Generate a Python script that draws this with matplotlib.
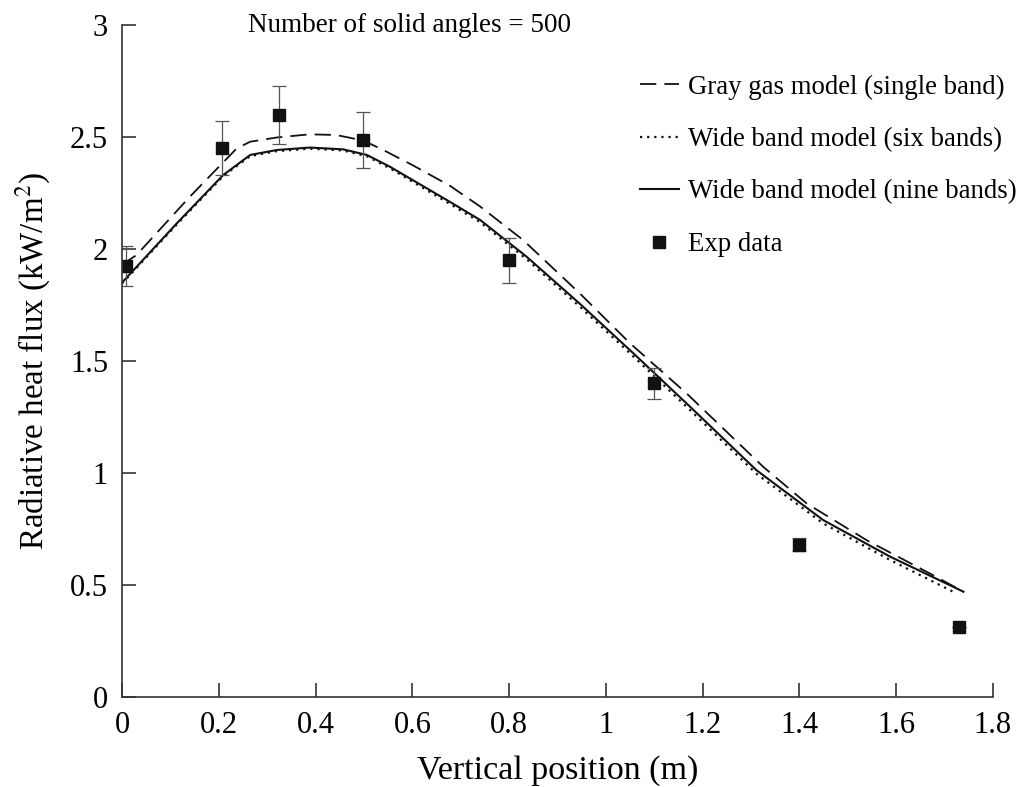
import matplotlib.pyplot as plt
from matplotlib.ticker import FuncFormatter

plt.rcParams['font.family'] = ['Liberation Serif', 'DejaVu Serif']
plt.rcParams['mathtext.fontset'] = 'stix'

# Gray gas model (single band)
x_gray = [0.0, 0.03, 0.14, 0.237, 0.265, 0.32, 0.388, 0.443, 0.499, 0.54, 0.6, 0.678,
          0.74, 0.829, 0.946, 1.05, 1.167, 1.325, 1.415, 1.539, 1.67, 1.739]
y_gray = [1.93, 1.973, 2.233, 2.449, 2.479, 2.498, 2.512, 2.509, 2.484, 2.442, 2.375, 2.282,
          2.19, 2.04, 1.802, 1.579, 1.355, 1.028, 0.864, 0.70, 0.551, 0.47]

# Wide band model (nine bands)
x_nine = [0.0, 0.113, 0.209, 0.265, 0.32, 0.388, 0.457, 0.506, 0.554, 0.671, 0.74,
          0.836, 0.946, 1.057, 1.174, 1.311, 1.449, 1.587, 1.739]
y_nine = [1.85, 2.114, 2.33, 2.42, 2.442, 2.453, 2.445, 2.42, 2.367, 2.219, 2.13,
          1.966, 1.756, 1.534, 1.296, 1.013, 0.79, 0.627, 0.47]

# Wide band model (six bands)
x_six = [0.0, 0.113, 0.209, 0.265, 0.32, 0.388, 0.457, 0.506, 0.554, 0.671, 0.74,
         0.836, 0.946, 1.057, 1.174, 1.311, 1.449, 1.587, 1.725]
y_six = [1.846, 2.109, 2.325, 2.415, 2.437, 2.448, 2.44, 2.414, 2.36, 2.21, 2.12,
         1.955, 1.743, 1.52, 1.281, 0.997, 0.775, 0.612, 0.462]

# Exp data
x_exp = [0.008, 0.207, 0.324, 0.498, 0.8, 1.099, 1.399, 1.73]
y_exp = [1.924, 2.45, 2.60, 2.487, 1.95, 1.40, 0.68, 0.3125]
err_exp = [0.09, 0.12, 0.13, 0.125, 0.1, 0.07, 0.03, 0.0]

fig = plt.figure(figsize=(10.21, 7.87), dpi=100)
ax = fig.add_axes([0.1195, 0.1144, 0.853, 0.8538])

ax.plot(x_gray, y_gray, color='#111111', lw=1.3, linestyle=(0, (9, 4.5)),
        label='Gray gas model (single band)')
ax.plot(x_six, y_six, color='#111111', lw=1.6, linestyle=(0, (1, 2.2)),
        label='Wide band model (six bands)')
ax.plot(x_nine, y_nine, color='#111111', lw=1.5, linestyle='-',
        label='Wide band model (nine bands)')
ax.errorbar(x_exp, y_exp, yerr=err_exp, fmt='none', ecolor='#555555',
            elinewidth=0.9, capsize=5, capthick=0.9)
ax.plot(x_exp, y_exp, 's', color='#111111', markersize=8, linestyle='none',
        label='Exp data')

ax.set_xlim(0, 1.8)
ax.set_ylim(0, 3)
ax.set_xticks([0, 0.2, 0.4, 0.6, 0.8, 1.0, 1.2, 1.4, 1.6, 1.8])
ax.set_yticks([0, 0.5, 1.0, 1.5, 2.0, 2.5, 3.0])
fmt = FuncFormatter(lambda v, p: '%g' % v)
ax.xaxis.set_major_formatter(fmt)
ax.yaxis.set_major_formatter(fmt)

for s in ['top', 'right']:
    ax.spines[s].set_visible(False)
for s in ['left', 'bottom']:
    ax.spines[s].set_color('#333333')
    ax.spines[s].set_linewidth(1.2)

ax.tick_params(direction='in', length=10, width=1.2, color='#333333',
               labelsize=22, pad=10)

ax.set_xlabel('Vertical position (m)', fontsize=24.5, labelpad=11)
ax.set_ylabel('Radiative heat flux (kW/m$^2$)', fontsize=23.8, labelpad=12)

ax.text(0.33, 0.999, 'Number of solid angles = 500', transform=ax.transAxes,
        fontsize=19.5, ha='center', va='center')

leg = ax.legend(loc='upper right', bbox_to_anchor=(1.055, 0.962), frameon=False,
                fontsize=19.3, handlelength=1.45, handletextpad=0.35, labelspacing=1.02)

fig.savefig('out.png', dpi=100)
